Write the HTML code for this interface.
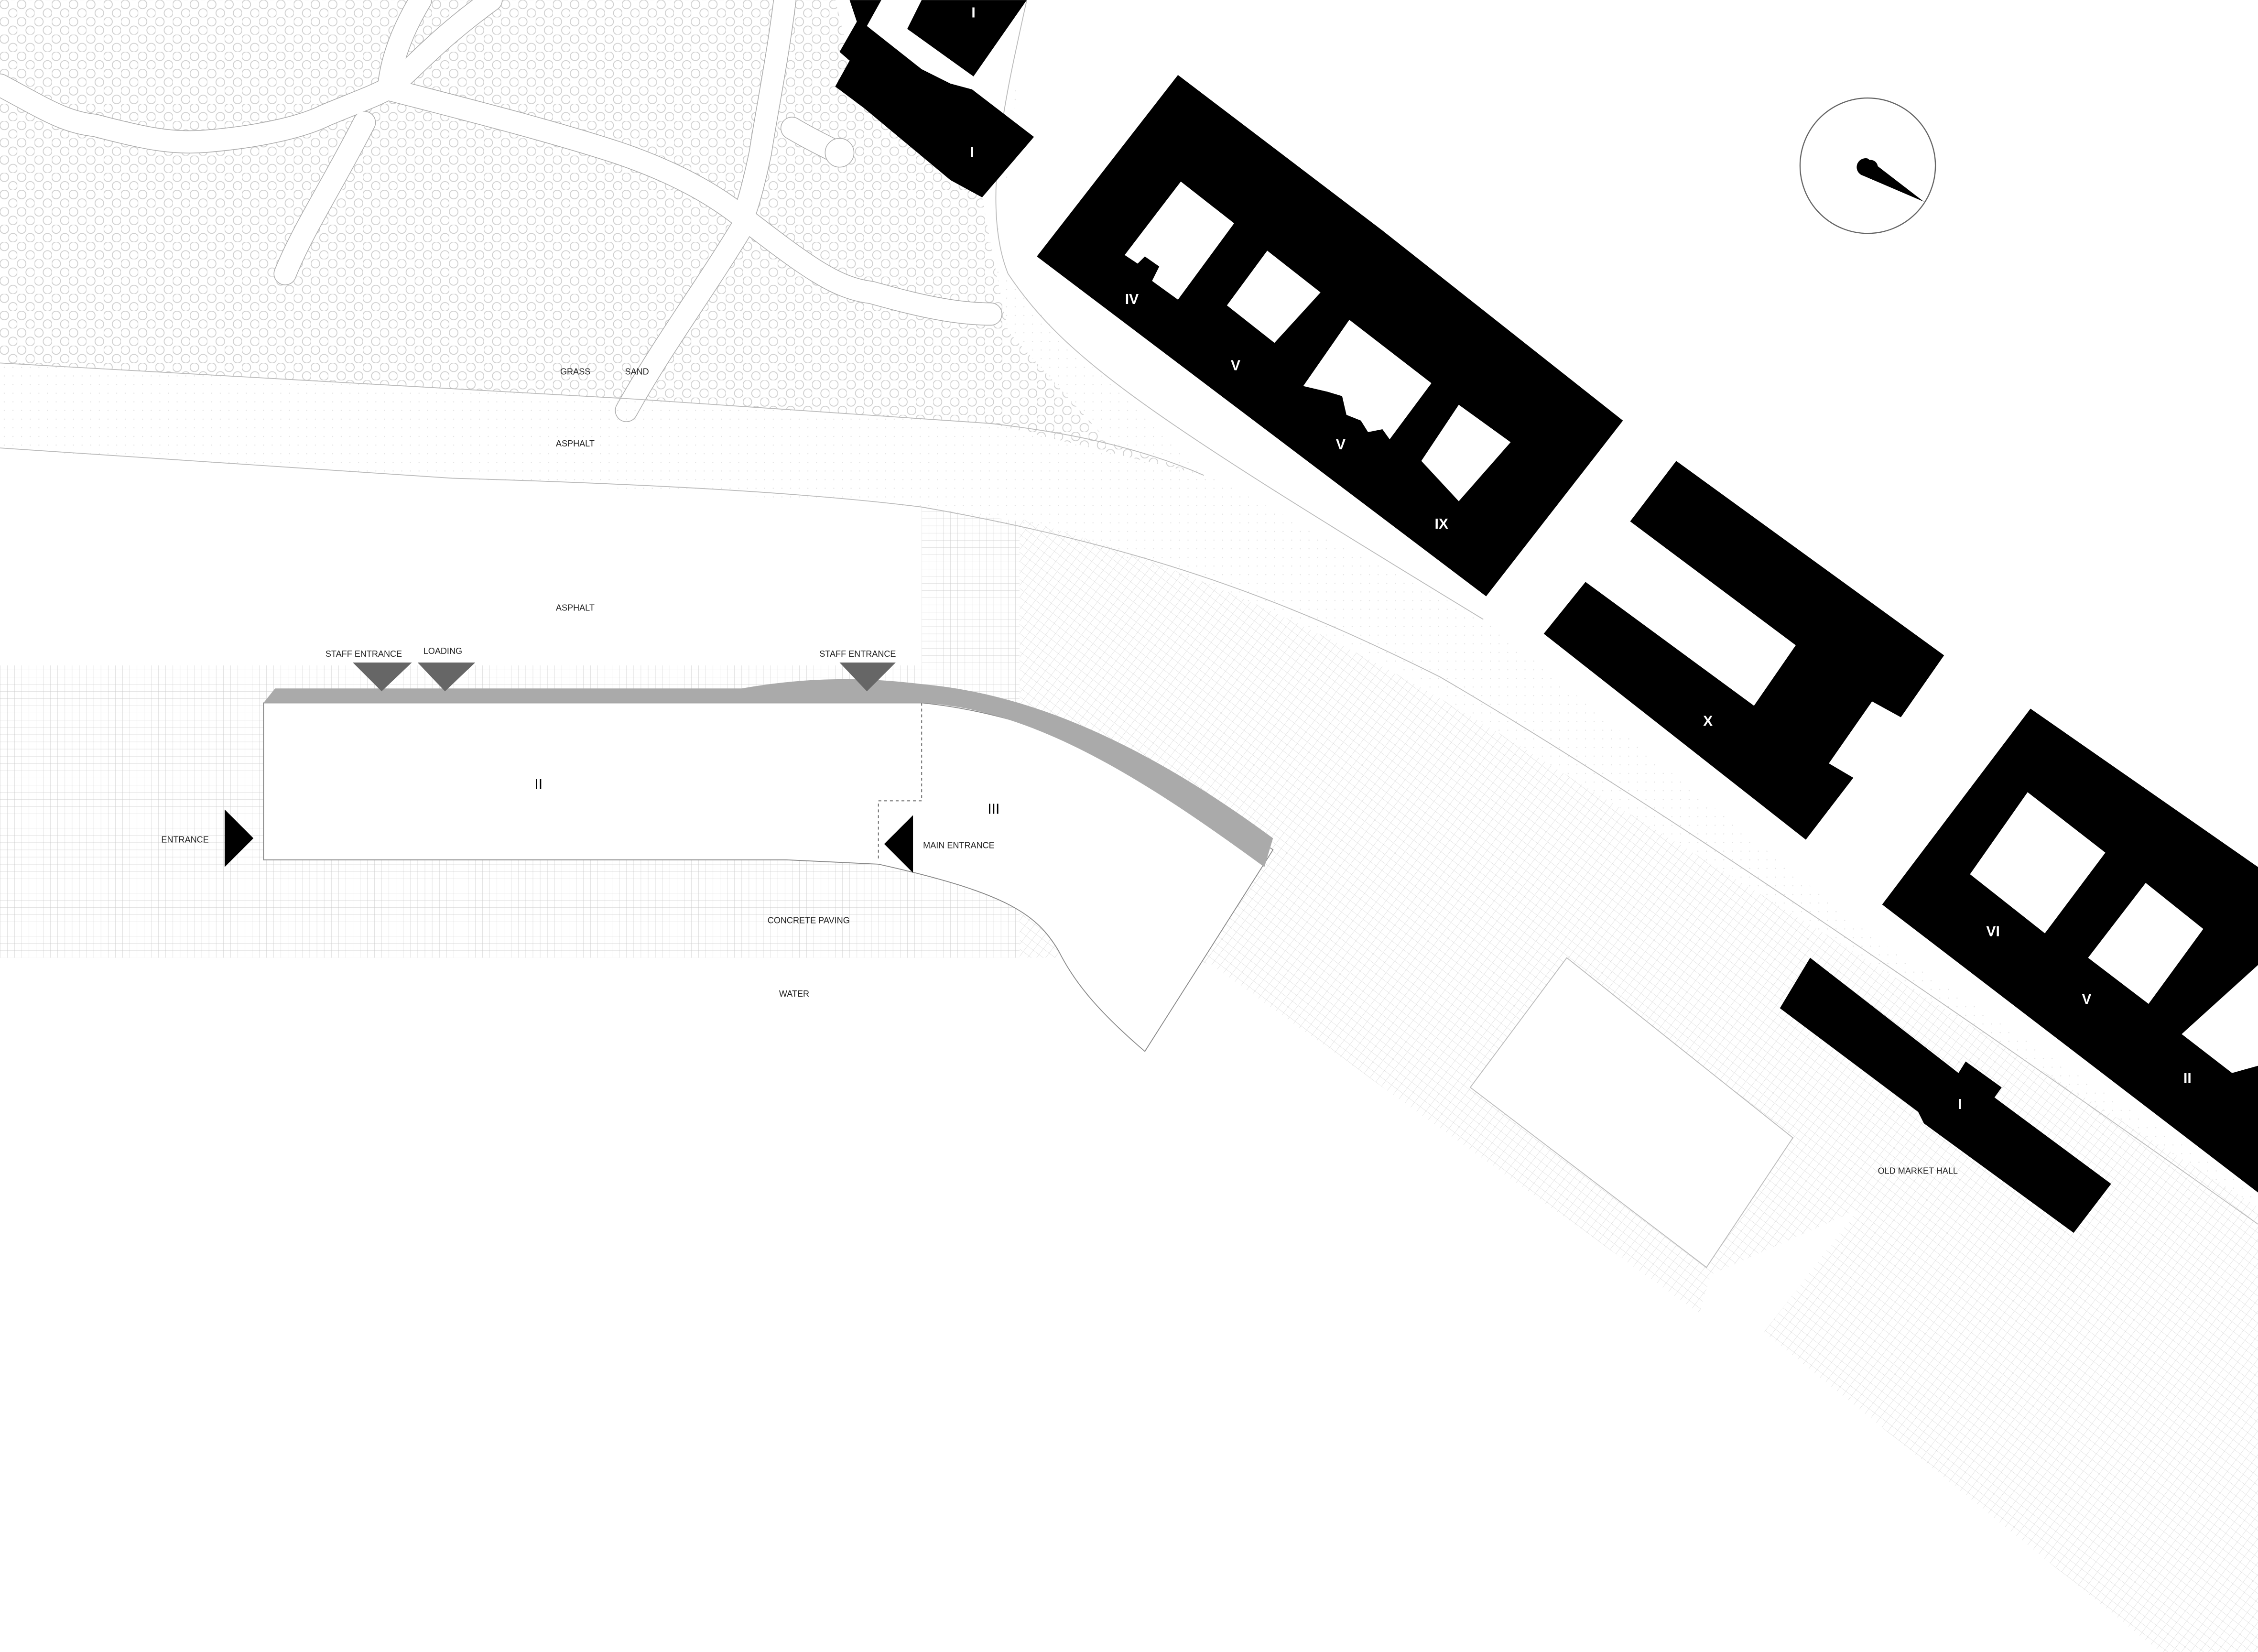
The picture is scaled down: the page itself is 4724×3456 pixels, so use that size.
<!DOCTYPE html>
<html><head><meta charset="utf-8"><style>
html,body{margin:0;padding:0;background:#fff}
svg{display:block}
text{font-family:"Liberation Sans",sans-serif}
.l{font-size:6px;fill:#222}
.n{font-size:10px;fill:#fff;font-weight:bold;text-anchor:middle}
.nb{font-size:10px;fill:#000;text-anchor:middle}
</style></head><body>
<svg width="4724" height="3456" viewBox="0 0 1568 1147" xmlns="http://www.w3.org/2000/svg">
<defs>
<pattern id="dots" width="12" height="12" patternUnits="userSpaceOnUse">
<circle cx="3" cy="3" r="3" fill="none" stroke="#cfcfcf" stroke-width="0.6"/>
<circle cx="9" cy="9" r="3" fill="none" stroke="#cfcfcf" stroke-width="0.6"/>
</pattern>
<pattern id="grid" width="5" height="5" patternUnits="userSpaceOnUse">
<path d="M0 0H5M0 0V5" stroke="#c8c8c8" stroke-width="0.35" fill="none"/>
</pattern>
<pattern id="gridr" width="5" height="5" patternUnits="userSpaceOnUse" patternTransform="rotate(37)">
<path d="M0 0H5M0 0V5" stroke="#cfcfcf" stroke-width="0.35" fill="none"/>
</pattern>
<pattern id="fine" width="6" height="6" patternUnits="userSpaceOnUse">
<circle cx="3" cy="3" r="0.4" fill="#e2e2e2"/>
</pattern>
</defs>
<rect width="1568" height="1147" fill="#fff"/>
<!-- grass -->
<path d="M0 0H580L590 40 582 60 600 75 660 125 682 137 690 180 700 230 770 307 836 330 688 294 440 277 0 252Z" fill="url(#dots)"/>
<!-- paths in grass -->
<g fill="none" stroke-linecap="round" stroke-linejoin="round">
<g stroke="#aaa" stroke-width="16">
<path d="M0 59 C30 75 45 85 66 87 C100 96 120 100 143 98 C180 95 210 88 226 80 C245 72 262 66 270 61 C290 45 300 30 341 0"/>
<path d="M292 0 C280 20 272 40 270 60"/>
<path d="M270 62 C320 75 380 90 429 106 C470 120 495 135 512 148 C560 185 580 200 605 203 C630 210 660 218 688 218"/>
<path d="M253 85 C230 130 210 160 198 190"/>
<path d="M517 155 C490 200 460 240 435 285"/>
<path d="M545 0 C540 40 532 80 528 106 C524 125 520 140 517 148"/>
<path d="M550 89 C560 95 570 100 578 104"/>
</g>
<g stroke="#fff" stroke-width="15">
<path d="M0 59 C30 75 45 85 66 87 C100 96 120 100 143 98 C180 95 210 88 226 80 C245 72 262 66 270 61 C290 45 300 30 341 0"/>
<path d="M292 0 C280 20 272 40 270 60"/>
<path d="M270 62 C320 75 380 90 429 106 C470 120 495 135 512 148 C560 185 580 200 605 203 C630 210 660 218 688 218"/>
<path d="M253 85 C230 130 210 160 198 190"/>
<path d="M517 155 C490 200 460 240 435 285"/>
<path d="M545 0 C540 40 532 80 528 106 C524 125 520 140 517 148"/>
<path d="M550 89 C560 95 570 100 578 104"/>
</g>
</g>
<circle cx="583" cy="106" r="10" fill="#fff" stroke="#aaa" stroke-width="0.5"/>
<!-- road strip fine dots -->
<path d="M713 0 L700 120 690 180 700 230 770 307 836 330 688 294 440 277 0 252 V312 L314 332 640 352 735 372 850 410 964 460 1078 532 1291 663 1568 840 V830 L1300 650 1030 430 835 328 735 232 690 180 Z" fill="url(#fine)"/>
<path d="M0 252 L440 277 688 294 C740 300 790 310 836 330 M0 311 L314 332 C450 336 560 342 640 352 C800 380 900 420 1000 470 C1120 540 1300 660 1568 850" stroke="#bbb" stroke-width="0.6" fill="none"/>
<path d="M713 0 C700 60 680 140 700 190 C740 250 800 290 1030 430" stroke="#bbb" stroke-width="0.6" fill="none"/>
<!-- left grid paving -->
<path d="M0 462H640V352L708 362V665H0Z" fill="url(#grid)"/>
<!-- diagonal grid band -->
<path d="M708 360 C850 400 964 460 1078 532 L1291 663 1568 838 V1147 H1500 L1225 925 1290 840 1188 885 1180 912 840 669 735 665 708 665Z" fill="url(#gridr)"/>
<path d="M1021 755 L1088 665 1245 790 1185 880Z" fill="#fff" stroke="#bbb" stroke-width="0.6"/>
<!-- buildings II and III -->
<path d="M640 488 C710 495 790 525 884 590 L795 730 C760 700 745 680 735 660 C720 635 700 620 610 600 L546 597 H183 V488Z" fill="#fff" stroke="#888" stroke-width="0.6"/>
<path d="M183 488 L191 478 H515 C560 470 600 470 640 475 C720 482 800 520 884 582 L878 602 C800 545 720 492 640 488Z" fill="#aaa"/>
<path d="M640 488 V556 H610 V597" stroke="#777" stroke-width="0.7" stroke-dasharray="2,2" fill="none"/>
<!-- entrances -->
<path d="M245 460H286L265 480Z M290 460H330L309 480Z M583 460H622L602 480Z" fill="#666"/>
<path d="M156 562 L176 582 156 602Z M634 566 L614 586 634 606Z" fill="#000"/>
<!-- black buildings -->
<g fill="#000">
<path d="M640 0H713L676 53 630 20Z"/>
<path d="M590 0H612L602 18 640 48 660 58 675 62 718 95 682 137 660 125 600 75 580 60 590 42 583 36 595 15Z"/>
<path d="M818 52 L960 160 1127 292 1032 414 720 178Z"/>
<path d="M1164 320 L1350 455 1320 498 1300 487 1270 530 1287 540 1254 583 1072 440 1101 404 1218 490 1247 448 1132 362Z"/>
<path d="M1410 492 L1568 602 V828 L1307 628Z"/>
<path d="M1257 665 L1360 745 1365 737 1390 755 1385 762 1466 822 1440 856 1336 780 1332 772 1236 700Z"/>
</g>
<g fill="#fff">
<path d="M820 126 L857 155 818 208 800 195 805 185 795 178 790 183 781 177Z"/>
<path d="M880 174 L917 203 885 238 852 212Z"/>
<path d="M937 222 L994 266 965 305 960 298 950 300 945 292 935 288 932 275 922 272 905 268Z"/>
<path d="M1013 281 L1049 307 1013 348 987 320Z"/>
<path d="M1408 550 L1462 592 1420 648 1368 607Z"/>
<path d="M1490 613 L1530 645 1492 697 1450 665Z"/>
<path d="M1568 670 V740 L1550 745 1515 718Z"/>
</g>
<!-- compass -->
<circle cx="1297" cy="115" r="47" fill="#fff" stroke="#666" stroke-width="0.8"/>
<path d="M1297 110 L1336 140 1294 122 A6 6 0 0 1 1297 110Z" fill="#000"/>
<circle cx="1299" cy="116" r="5" fill="#000"/>
<!-- labels -->
<text class="l" x="389" y="260">GRASS</text>
<text class="l" x="434" y="260">SAND</text>
<text class="l" x="386" y="310">ASPHALT</text>
<text class="l" x="386" y="424">ASPHALT</text>
<text class="l" x="226" y="456">STAFF ENTRANCE</text>
<text class="l" x="294" y="454">LOADING</text>
<text class="l" x="569" y="456">STAFF ENTRANCE</text>
<text class="l" x="112" y="585">ENTRANCE</text>
<text class="l" x="641" y="589">MAIN ENTRANCE</text>
<text class="l" x="533" y="641">CONCRETE PAVING</text>
<text class="l" x="541" y="692">WATER</text>
<text class="l" x="1304" y="815">OLD MARKET HALL</text>
<text class="nb" x="374" y="548">II</text>
<text class="nb" x="690" y="565">III</text>
<text class="n" x="676" y="12">I</text>
<text class="n" x="675" y="109">I</text>
<text class="n" x="786" y="211">IV</text>
<text class="n" x="858" y="257">V</text>
<text class="n" x="931" y="312">V</text>
<text class="n" x="1001" y="367">IX</text>
<text class="n" x="1186" y="504">X</text>
<text class="n" x="1384" y="650">VI</text>
<text class="n" x="1449" y="697">V</text>
<text class="n" x="1519" y="752">II</text>
<text class="n" x="1361" y="770">I</text>
</svg>
</body></html>
